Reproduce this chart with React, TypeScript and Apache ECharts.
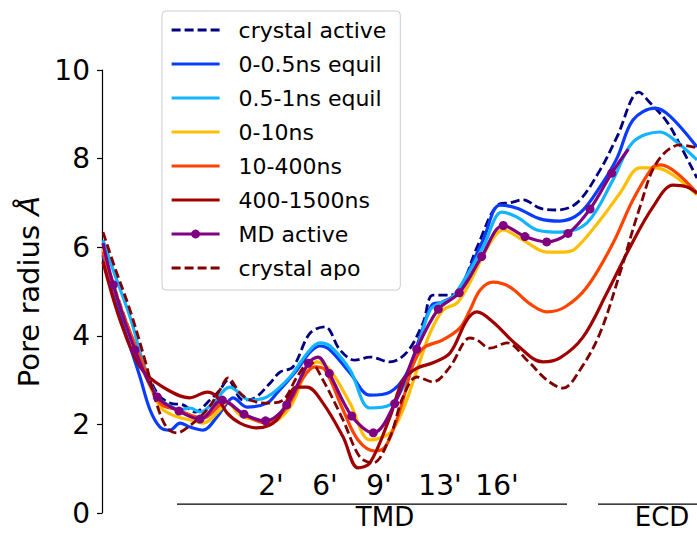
import { useEffect, useRef } from "react";
import * as echarts from "echarts";

// Pore axis coordinate (arbitrary units) and pore radius (Å)
const crystalActiveX = [0.1, 1.1, 3.3, 5.5, 6.8, 8.1, 9.3, 10.8, 11.8, 12.6, 14.1, 15.3, 16.8, 17.8, 19.1, 20.8, 22.3, 23.8, 25.3, 26.8, 28.8, 30.5, 32.1, 33.1, 34.8, 35.8, 37.6, 39.8, 40.8, 42.1, 43.8, 45.5, 47.5, 49.8, 51.5, 53.7, 54.8, 56.5, 57.8, 59.5];
const crystalActiveY = [5.94, 5.19, 3.79, 2.71, 2.48, 2.44, 2.28, 2.55, 2.78, 3.0, 2.55, 2.6, 2.93, 3.18, 3.3, 4.06, 4.2, 3.68, 3.45, 3.52, 3.41, 3.63, 4.29, 4.92, 4.92, 5.03, 6.05, 6.98, 7.0, 7.07, 6.88, 6.84, 7.0, 7.74, 8.49, 9.5, 9.26, 8.83, 8.31, 7.56];

const equil05X = [0.1, 1.3, 3.8, 4.8, 5.8, 6.8, 7.8, 8.8, 10.1, 11.5, 12.5, 13.1, 14.5, 16.5, 17.5, 19.5, 20.8, 21.8, 22.8, 24.8, 26.8, 28.8, 30.5, 31.8, 33.0, 34.0, 35.5, 38.1, 39.8, 41.5, 43.8, 45.8, 47.8, 49.8, 51.5, 53.1, 55.3, 56.8, 59.5];
const equil05Y = [5.82, 4.81, 3.07, 2.33, 1.94, 1.87, 2.03, 1.94, 1.87, 2.17, 2.48, 2.6, 2.39, 2.48, 2.71, 3.23, 3.63, 3.77, 3.68, 3.16, 2.66, 2.73, 3.16, 3.97, 4.7, 4.76, 4.97, 6.16, 6.95, 6.88, 6.64, 6.59, 6.77, 7.36, 8.01, 8.87, 9.14, 8.96, 8.26];

const equil1X = [0.1, 1.3, 2.9, 4.1, 5.5, 6.8, 7.8, 8.8, 9.8, 11.1, 12.8, 14.8, 16.5, 18.8, 20.6, 21.8, 22.8, 24.8, 26.8, 28.8, 30.1, 31.5, 32.8, 33.8, 35.1, 38.1, 40.0, 41.5, 43.5, 45.8, 48.5, 51.1, 53.1, 55.8, 57.5, 59.5];
const equil1Y = [6.16, 5.37, 4.36, 3.41, 2.62, 2.42, 2.33, 2.37, 2.28, 2.48, 2.84, 2.55, 2.62, 3.07, 3.63, 3.84, 3.77, 3.23, 2.37, 2.44, 2.84, 3.68, 4.58, 4.74, 4.88, 6.0, 6.79, 6.68, 6.39, 6.34, 6.55, 7.52, 8.37, 8.6, 8.37, 7.97];

const ns10X = [0.1, 1.3, 3.8, 5.5, 6.1, 7.5, 8.8, 10.1, 11.8, 12.5, 13.8, 15.3, 16.8, 18.8, 20.3, 21.5, 22.8, 24.8, 26.8, 28.8, 30.1, 31.5, 32.8, 34.1, 35.5, 36.5, 38.8, 40.1, 42.1, 44.5, 46.1, 47.3, 49.8, 51.8, 53.8, 55.4, 57.1, 59.5];
const ns10Y = [5.98, 5.03, 3.41, 2.51, 2.33, 2.17, 2.1, 2.03, 2.33, 2.51, 2.21, 2.1, 2.03, 2.39, 3.12, 3.41, 3.23, 2.48, 1.65, 1.81, 2.33, 3.23, 4.06, 4.58, 4.74, 5.08, 6.09, 6.39, 6.16, 5.89, 5.89, 5.96, 6.61, 7.22, 7.79, 7.79, 7.63, 7.18];

const ns400X = [0.1, 1.3, 3.8, 5.8, 7.5, 10.1, 11.8, 12.3, 13.8, 15.3, 16.5, 18.5, 20.1, 21.3, 22.3, 24.1, 25.6, 27.3, 28.3, 29.3, 30.1, 31.1, 32.1, 34.1, 35.8, 36.8, 37.8, 39.1, 40.8, 42.8, 44.5, 46.3, 48.5, 51.1, 53.1, 55.1, 55.9, 57.5, 59.5];
const ns400Y = [5.89, 4.99, 3.52, 2.48, 2.33, 2.14, 2.44, 2.51, 2.28, 2.1, 2.03, 2.39, 3.05, 3.3, 3.23, 2.33, 1.65, 1.4, 1.49, 1.99, 2.55, 3.34, 3.72, 3.91, 4.18, 4.58, 5.03, 5.21, 5.1, 4.72, 4.54, 4.65, 5.1, 6.09, 7.07, 7.81, 7.86, 7.67, 7.22];

const ns1500X = [0.1, 1.8, 3.8, 6.1, 8.8, 10.5, 11.5, 12.5, 13.8, 15.5, 17.5, 19.5, 20.5, 22.1, 24.1, 25.6, 26.8, 28.8, 30.1, 31.5, 33.1, 34.8, 36.5, 37.5, 39.1, 41.5, 44.1, 45.8, 48.1, 50.5, 52.8, 55.1, 57.1, 58.5, 59.5];
const ns1500Y = [5.67, 4.36, 3.3, 2.84, 2.6, 2.73, 2.62, 2.26, 2.03, 1.92, 2.1, 2.84, 2.84, 2.48, 1.72, 1.02, 1.13, 2.17, 3.0, 3.27, 3.39, 3.61, 4.36, 4.54, 4.31, 3.79, 3.41, 3.5, 3.97, 4.97, 6.0, 6.91, 7.4, 7.36, 7.22];

const mdActiveX = [0.1, 1.13, 3.3, 5.53, 7.7, 9.8, 12.03, 14.2, 16.35, 18.47, 20.63, 21.6, 22.73, 24.97, 27.13, 29.27, 31.47, 33.63, 35.73, 37.97, 40.13, 42.3, 44.47, 46.6, 48.8, 50.97, 52.63];
const mdActiveY = [6.09, 5.15, 3.68, 2.62, 2.3, 2.12, 2.55, 2.23, 2.08, 2.44, 3.38, 3.52, 3.15, 2.19, 1.81, 2.47, 3.7, 4.6, 4.97, 5.79, 6.49, 6.24, 6.12, 6.31, 6.86, 7.67, 8.21];
const mdActiveMarker = [false, true, true, true, true, true, true, true, true, true, true, false, true, true, true, true, true, true, true, true, true, true, true, true, true, true, false];

const crystalApoX = [0.1, 1.3, 2.8, 4.3, 5.5, 6.5, 7.5, 8.5, 10.5, 11.8, 12.6, 13.8, 14.8, 16.5, 18.1, 19.5, 20.8, 22.1, 24.1, 25.8, 27.1, 28.8, 30.1, 31.5, 33.1, 34.8, 36.8, 37.5, 38.8, 40.5, 42.5, 44.5, 46.1, 47.8, 49.8, 51.8, 53.8, 55.5, 57.8, 59.5];
const crystalApoY = [6.34, 5.53, 4.58, 3.45, 2.44, 1.92, 1.81, 1.92, 2.33, 2.78, 3.05, 2.71, 2.55, 2.48, 2.55, 3.07, 3.41, 3.0, 2.1, 1.26, 1.13, 1.72, 2.62, 3.07, 2.96, 3.3, 3.95, 3.91, 3.72, 3.84, 3.45, 3.0, 2.82, 3.23, 4.06, 5.42, 6.91, 7.92, 8.31, 8.24];

const residueLabels = ["2'", "6'", "9'", "13'", "16'"];
const residuePos = [16.9, 22.3, 27.7, 33.8, 39.5];
const residueY = 0.61;

const domainNames = ["TMD", "ECD"];
const domainStart = [7.5, 49.6];
const domainEnd = [46.5, 62];
const domainLabelPos = [28.3, 56.0];
const domainLineY = 0.2;
const domainLabelY = -0.09;

const yTicks = { min: 0, max: 10, interval: 2 };

export default function App() {
  const ref = useRef<HTMLDivElement>(null);
  useEffect(() => {
    const chart = echarts.init(ref.current!, null, { renderer: "svg" });
    const font = "DejaVu Sans";
    const mk = (name: string, xs: number[], ys: number[], color: string, dashed: boolean) => ({
      name,
      type: "line",
      data: xs.map((x, i) => [x, ys[i]]),
      smooth: 0.35,
      symbol: "none",
      clip: true,
      lineStyle: { color, width: dashed ? 2.8 : 3.2, type: dashed ? [9, 4] : "solid" },
      itemStyle: { color },
    });
    const md = {
      name: "MD active",
      type: "line",
      data: mdActiveX.map((x, i) => ({
        value: [x, mdActiveY[i]],
        symbol: mdActiveMarker[i] ? "circle" : "none",
      })),
      smooth: 0.35,
      symbol: "circle",
      symbolSize: 9,
      showSymbol: true,
      clip: true,
      lineStyle: { color: "#800080", width: 3.2 },
      itemStyle: { color: "#800080" },
    };
    const series: any[] = [
      mk("crystal active", crystalActiveX, crystalActiveY, "#000080", true),
      mk("0-0.5ns equil", equil05X, equil05Y, "#0a3cff", false),
      mk("0.5-1ns equil", equil1X, equil1Y, "#12b4ff", false),
      mk("0-10ns", ns10X, ns10Y, "#ffbf00", false),
      mk("10-400ns", ns400X, ns400Y, "#ff4400", false),
      mk("400-1500ns", ns1500X, ns1500Y, "#a00000", false),
      md,
      mk("crystal apo", crystalApoX, crystalApoY, "#800000", true),
    ];
    const legendData = series.map((s) => {
      const dashed = Array.isArray(s.lineStyle.type);
      const item: any = { name: s.name, lineStyle: { width: dashed ? 2.8 : 3.2 } };
      if (s.name !== "MD active") {
        item.itemStyle = { opacity: 0, color: "rgba(0,0,0,0)", borderWidth: 0 };
      }
      return item;
    });
    chart.setOption({
      animation: false,
      grid: { left: 102, right: 0, top: 70, bottom: 20 },
      xAxis: { type: "value", min: 0, max: 59.5, show: false },
      yAxis: {
        type: "value",
        min: yTicks.min,
        max: yTicks.max,
        interval: yTicks.interval,
        name: "Pore radius {a|Å}",
        nameLocation: "middle",
        nameGap: 55,
        nameTextStyle: {
          fontFamily: font,
          fontSize: 29,
          color: "#000",
          rich: { a: { fontFamily: font, fontSize: 29, fontStyle: "italic", color: "#000" } },
        },
        axisLine: { show: true, lineStyle: { color: "#000", width: 1.2 } },
        axisTick: { show: true, length: 5, lineStyle: { color: "#000", width: 1.2 } },
        axisLabel: { fontFamily: font, fontSize: 28, color: "#000", margin: 12 },
        splitLine: { show: false },
      },
      legend: {
        orient: "vertical",
        left: 162,
        top: 11,
        itemWidth: 48,
        itemHeight: 11,
        itemGap: 10,
        padding: [7, 14, 10, 8],
        backgroundColor: "rgba(255,255,255,0.8)",
        borderColor: "#cccccc",
        borderWidth: 1,
        borderRadius: 4,
        selectedMode: false,
        textStyle: { fontFamily: font, fontSize: 22, color: "#000", lineHeight: 24, padding: [0, 0, 0, 14] },
        data: legendData,
      },
      series,
    });
    const px = (x: number, y: number) => chart.convertToPixel({ gridIndex: 0 }, [x, y]) as number[];
    const graphics: any[] = [];
    residueLabels.forEach((t, i) => {
      const p = px(residuePos[i], residueY);
      graphics.push({
        type: "text",
        x: p[0],
        y: p[1],
        style: { text: t, fontFamily: font, fontSize: 28, fill: "#000", textAlign: "center", textVerticalAlign: "middle" },
      });
    });
    domainNames.forEach((t, i) => {
      const a = px(domainStart[i], domainLineY);
      const b = px(domainEnd[i], domainLineY);
      graphics.push({
        type: "line",
        shape: { x1: a[0], y1: a[1], x2: b[0], y2: b[1] },
        style: { stroke: "#000", lineWidth: 1.3 },
      });
      const c = px(domainLabelPos[i], domainLabelY);
      graphics.push({
        type: "text",
        x: c[0],
        y: c[1],
        style: {
          text: t,
          fontFamily: font,
          fontSize: 26,
          lineHeight: 20,
          fill: "#000",
          textAlign: "center",
          textVerticalAlign: "middle",
        },
      });
    });
    chart.setOption({ graphic: graphics });
    return () => chart.dispose();
  }, []);
  return (
    <div
      ref={ref}
      style={{ position: "fixed", left: 0, top: 0, width: 697, height: 533, background: "#fff" }}
    />
  );
}
